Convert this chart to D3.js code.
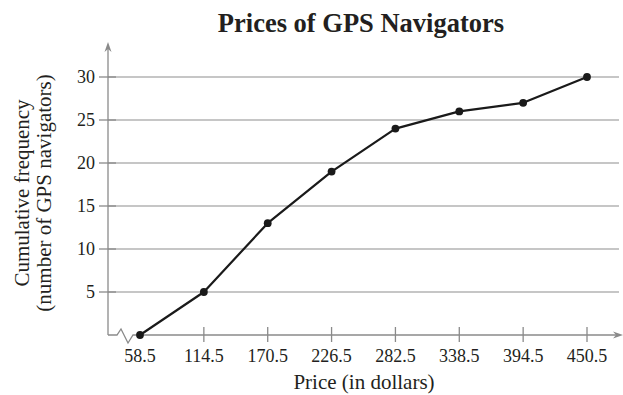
<!DOCTYPE html>
<html>
<head>
<meta charset="utf-8">
<script src="https://cdn.jsdelivr.net/npm/d3@7"></script>
<style>
  body { margin: 0; background: #fff; }
  svg text { font-family: "Liberation Serif", "Times New Roman", serif; fill: #231f20; }
</style>
</head>
<body>
<svg id="chart" width="623" height="395"></svg>
<script>
// Class boundaries (upper) and cumulative counts
const prices = ["58.5", "114.5", "170.5", "226.5", "282.5", "338.5", "394.5", "450.5"];
const cumulative = [0, 5, 13, 19, 24, 26, 27, 30];
const yTicks = [5, 10, 15, 20, 25, 30];

const svg = d3.select("#chart");
const axisX0 = 108, axisY0 = 335;

const x = d3.scalePoint().domain(prices).range([140, 587]);
const y = d3.scaleLinear().domain([0, 30]).range([axisY0, 77]);

const axisColor = "#8a8a8a";

// horizontal grid lines
svg.append("g").selectAll("line").data(yTicks).join("line")
  .attr("x1", axisX0).attr("x2", 619)
  .attr("y1", d => y(d)).attr("y2", d => y(d))
  .attr("stroke", "#b3b3b3").attr("stroke-width", 1.3);

// y tick marks and labels
const yAxis = svg.append("g");
yAxis.selectAll("line").data(yTicks).join("line")
  .attr("x1", 99).attr("x2", 116)
  .attr("y1", d => y(d)).attr("y2", d => y(d))
  .attr("stroke", axisColor).attr("stroke-width", 1.3);
yAxis.selectAll("text").data(yTicks).join("text")
  .attr("x", 95).attr("y", d => y(d)).attr("dy", "0.35em")
  .attr("text-anchor", "end").attr("font-size", 18)
  .text(d => d);

// y axis with arrow head
svg.append("line").attr("x1", axisX0).attr("x2", axisX0)
  .attr("y1", axisY0).attr("y2", 46)
  .attr("stroke", axisColor).attr("stroke-width", 1.3);
svg.append("path")
  .attr("d", `M${axisX0},42 L${axisX0 - 3.5},52 L${axisX0},49 L${axisX0 + 3.5},52 Z`)
  .attr("fill", axisColor);

// x axis with break symbol and arrow head
svg.append("path")
  .attr("d", `M${axisX0},${axisY0} H117 L121,329 L128,343 L133,${axisY0} H618`)
  .attr("fill", "none").attr("stroke", axisColor).attr("stroke-width", 1.3);
svg.append("path")
  .attr("d", `M623,${axisY0} L613,${axisY0 - 3.5} L616,${axisY0} L613,${axisY0 + 3.5} Z`)
  .attr("fill", axisColor);

const xAxis = svg.append("g");
xAxis.selectAll("line").data(prices.slice(1)).join("line")
  .attr("x1", d => x(d)).attr("x2", d => x(d))
  .attr("y1", axisY0 - 8).attr("y2", axisY0 + 7)
  .attr("stroke", axisColor).attr("stroke-width", 1.3);
xAxis.selectAll("text").data(prices).join("text")
  .attr("x", d => x(d)).attr("y", 362)
  .attr("text-anchor", "middle").attr("font-size", 18)
  .text(d => d);

// ogive line and points
const line = d3.line().x((d, i) => x(prices[i])).y(d => y(d));
svg.append("path").datum(cumulative)
  .attr("d", line).attr("fill", "none")
  .attr("stroke", "#1a1a1a").attr("stroke-width", 2.2)
  .attr("stroke-linejoin", "round");
svg.append("g").selectAll("circle").data(cumulative).join("circle")
  .attr("cx", (d, i) => x(prices[i])).attr("cy", d => y(d))
  .attr("r", 3.9).attr("fill", "#1a1a1a");

// titles
svg.append("text").attr("x", 361).attr("y", 32)
  .attr("text-anchor", "middle").attr("font-size", 26.5).attr("font-weight", "bold")
  .text("Prices of GPS Navigators");
svg.append("text").attr("x", 364).attr("y", 389)
  .attr("text-anchor", "middle").attr("font-size", 21)
  .text("Price (in dollars)");
const yTitle = svg.append("text").attr("text-anchor", "middle").attr("font-size", 21)
  .attr("transform", "translate(0,193) rotate(-90)");
yTitle.append("tspan").attr("x", 0).attr("y", 29).text("Cumulative frequency");
yTitle.append("tspan").attr("x", 0).attr("y", 51).text("(number of GPS navigators)");
</script>
</body>
</html>
